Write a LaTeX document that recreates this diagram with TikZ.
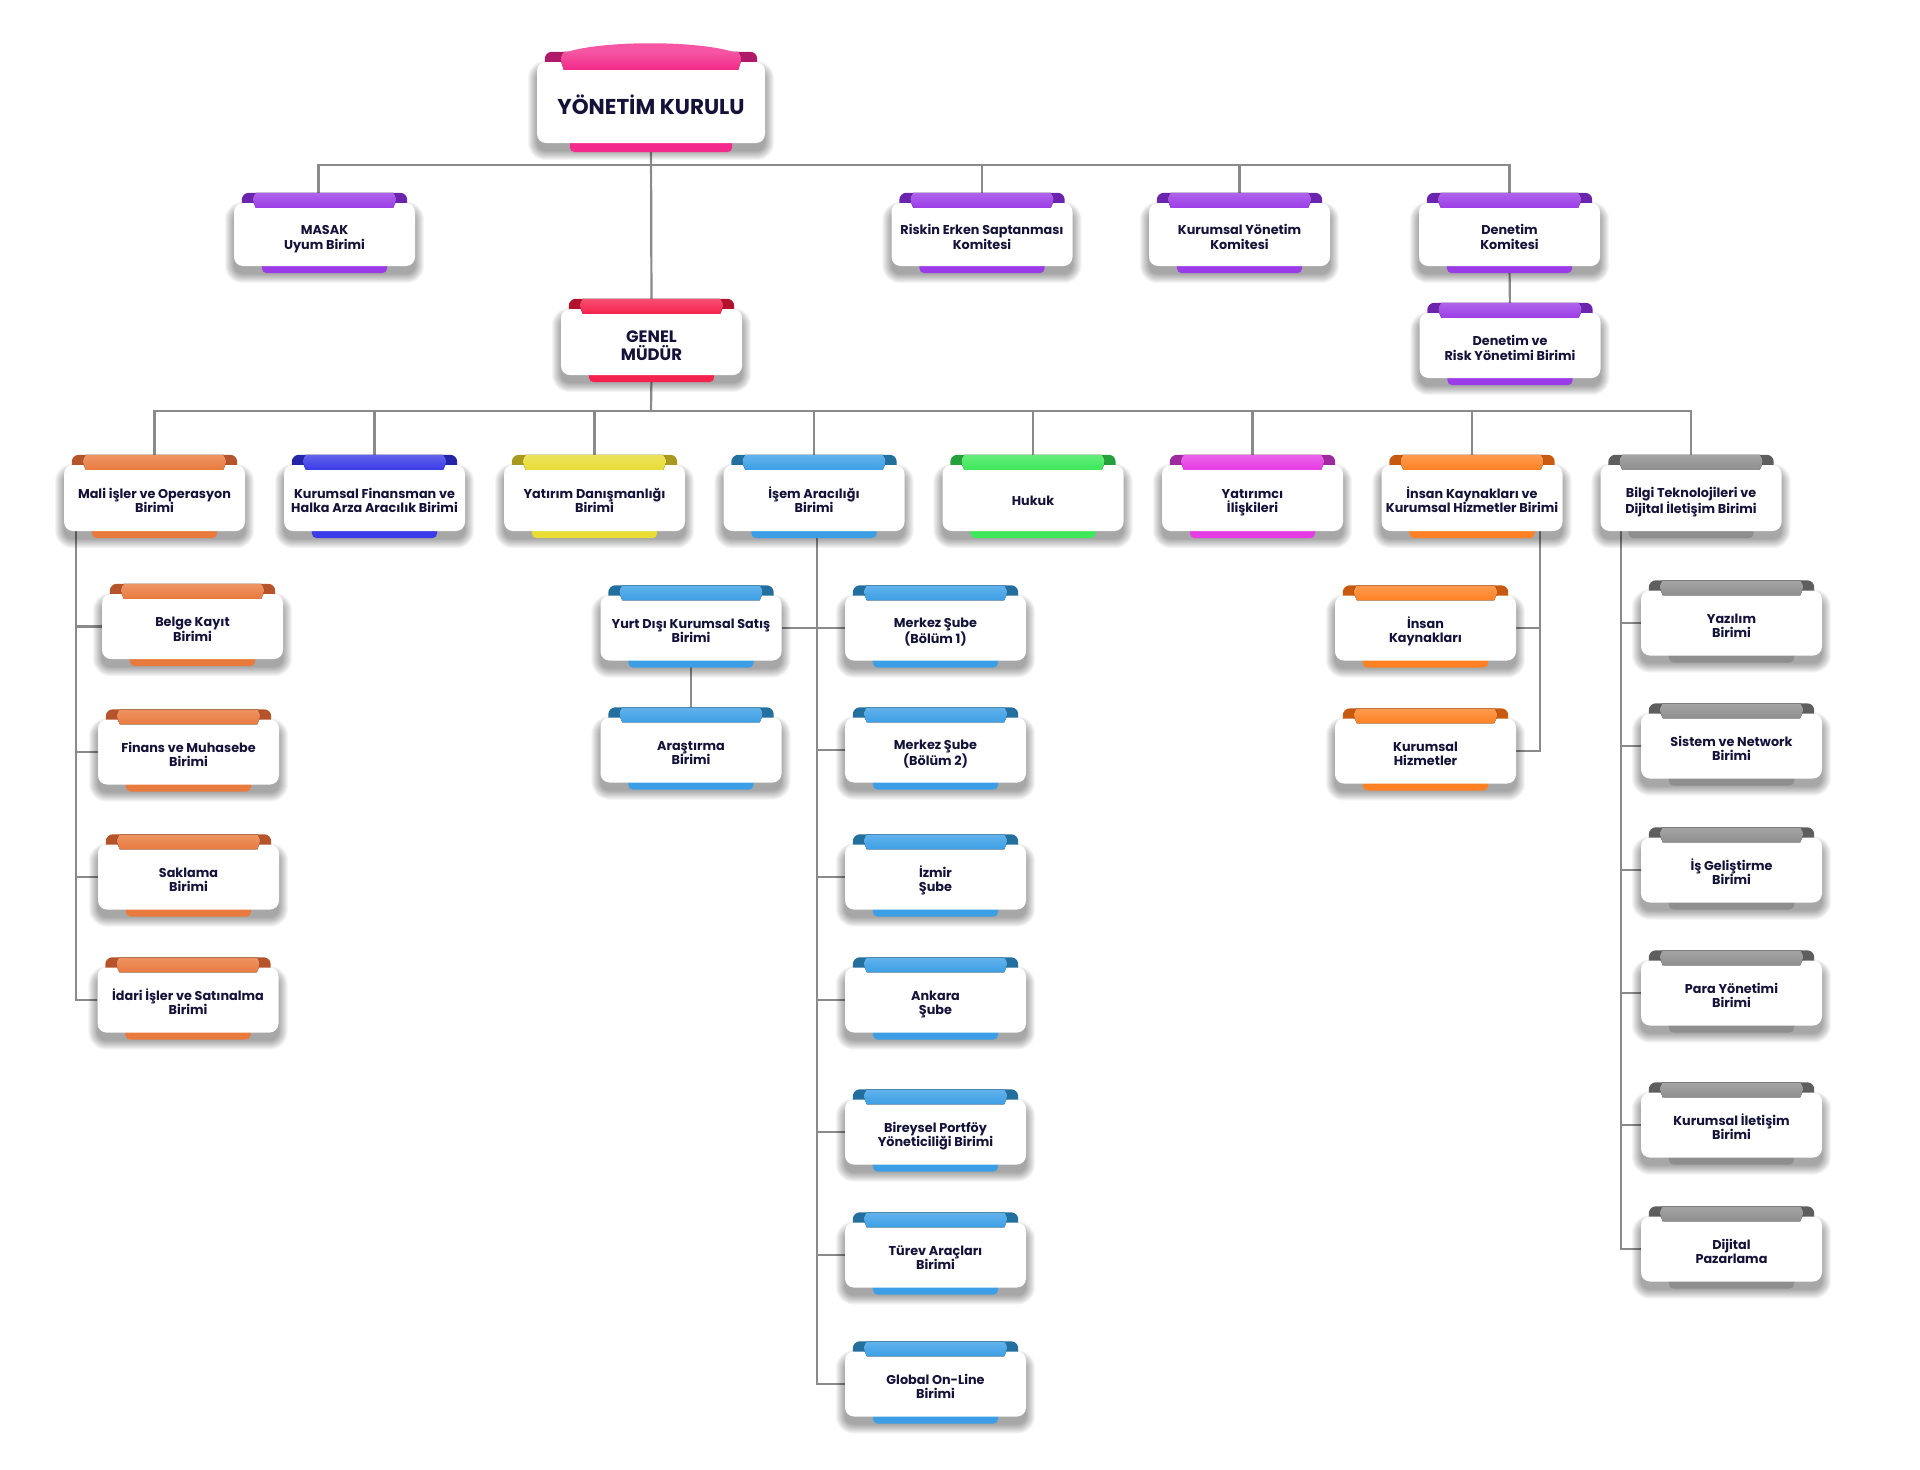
\documentclass[tikz,border=0pt]{standalone}
\usepackage{fontspec}
\setmainfont{Poppins}
\usetikzlibrary{calc}
\pgfdeclarelayer{bg}
\pgfdeclarelayer{lines}
\pgfdeclarelayer{back}
\pgfsetlayers{bg,lines,back,main}
\definecolor{txt}{HTML}{15123A}
\definecolor{conncol}{HTML}{8A8A8A}
\definecolor{pk}{HTML}{F22A8B}\definecolor{pkd}{HTML}{B0186A}
\definecolor{pu}{HTML}{9B3DE6}\definecolor{pud}{HTML}{6B24AE}
\definecolor{rd}{HTML}{F5224E}\definecolor{rdd}{HTML}{B3122F}
\definecolor{orr}{HTML}{E97A3E}\definecolor{orrd}{HTML}{B5532A}
\definecolor{bl}{HTML}{3B3BE8}\definecolor{bld}{HTML}{2424A8}
\definecolor{ye}{HTML}{E8DC35}\definecolor{yed}{HTML}{A89A1E}
\definecolor{sk}{HTML}{3C9FE6}\definecolor{skd}{HTML}{23709E}
\definecolor{gr}{HTML}{3EE85A}\definecolor{grd}{HTML}{26A03A}
\definecolor{mg}{HTML}{E63CE3}\definecolor{mgd}{HTML}{9E2A9E}
\definecolor{oa}{HTML}{FF8124}\definecolor{oad}{HTML}{C75A10}
\definecolor{gy}{HTML}{8E8E8E}\definecolor{gyd}{HTML}{5E5E5E}
\def\tsh{20pt}\def\bsd{5pt}
\newcommand\tstr{\rule{0pt}{\tsh}}
\newcommand\bstr{\rule[-\bsd]{0pt}{0pt}}
\tikzset{
  obx/.style={rectangle, rounded corners=9pt, fill=white, inner sep=0pt, align=center,
    text=txt, font=\bfseries\fontsize{12.8}{14.6}\selectfont},
  conn/.style={draw=conncol, line width=2.2pt},
}
\def\co{8}\def\fo{22}\def\bo{28}\def\fb{5}\def\bb{7}
% [options], name, x, y, w, h, colour, text
\newcommand\obox[8][]{%
  \node[obx, minimum width=#5, minimum height=#6, #1] (#2) at (#3,#4) {\tstr#8\bstr};
  \begin{pgfonlayer}{back}
    \foreach \k in {0,...,9}{%
      \pgfmathsetmacro\rr{9+\k}%
      \fill[black, opacity=0.04, rounded corners=\rr pt]
        ([xshift=-\k pt, yshift=-8pt-\k pt]#2.south west) rectangle
        ([xshift=\k pt, yshift=-8pt+\k pt]#2.north east);
    }
    \fill[#7d, rounded corners=7pt] ([xshift=\co pt, yshift=10pt]#2.north west) rectangle
      ([xshift=-\co pt, yshift=-12pt]#2.north east);
    \fill[#7, rounded corners=5pt] ([xshift=\bo pt, yshift=10pt]#2.south west) rectangle
      ([xshift=-\bo pt, yshift=-\bb pt]#2.south east);
  \end{pgfonlayer}
  \fill[top color=#7!80!white, bottom color=#7]
    ([xshift=\fo pt, yshift=10pt]#2.north west)
    .. controls ([xshift=\fo pt-4pt, yshift=4pt]#2.north west) .. ([xshift=\fo pt, yshift=-\fb pt]#2.north west)
    -- ([xshift=-\fo pt, yshift=-\fb pt]#2.north east)
    .. controls ([xshift=-\fo pt+4pt, yshift=4pt]#2.north east) .. ([xshift=-\fo pt, yshift=10pt]#2.north east)
    -- cycle;
}
\begin{document}
\begin{tikzpicture}[x=1pt, y=-1pt]
\useasboundingbox (0,0) rectangle (1920,1470);
\begin{pgfonlayer}{bg}
  \fill[white] (0,0) rectangle (1920,1470);
\end{pgfonlayer}

% top
\begin{scope}
\def\fo{27}\def\bo{33}\def\fb{8}\def\bb{9}\def\tsh{30pt}\def\bsd{6pt}
\obox[font=\bfseries\fontsize{21.5}{25}\selectfont]{yk}{651}{102.5}{228}{81}{pk}{YÖNETİM KURULU}
\fill[pk!80!white] (564,53) .. controls (600,40) and (700,40) .. (737,53) -- cycle;
\end{scope}

% level 1
\obox{masak}{324.5}{234.5}{181}{63}{pu}{MASAK\\Uyum Birimi}
\obox{risk}{982}{234.5}{181}{63}{pu}{Riskin Erken Saptanması\\Komitesi}
\obox{kyk}{1239.5}{234.5}{181}{63}{pu}{Kurumsal Yönetim\\Komitesi}
\obox{denk}{1509.5}{234.5}{181}{63}{pu}{Denetim\\Komitesi}
\obox{drisk}{1510}{345.5}{181}{65}{pu}{Denetim ve\\Risk Yönetimi Birimi}
\begin{scope}
\def\tsh{24pt}
\obox[font=\bfseries\fontsize{16.5}{18}\selectfont]{gm}{651.5}{342}{181}{66}{rd}{GENEL\\MÜDÜR}
\end{scope}

% level 2
\obox{mali}{154.5}{498}{181}{66}{orr}{Mali işler ve Operasyon\\Birimi}
\obox{kfin}{374.5}{498}{181}{66}{bl}{Kurumsal Finansman ve\\Halka Arza Aracılık Birimi}
\obox{yat}{594.5}{498}{181}{66}{ye}{Yatırım Danışmanlığı\\Birimi}
\obox{isem}{814}{498}{181}{66}{sk}{İşem Aracılığı\\Birimi}
\obox{huk}{1033}{498}{181}{66}{gr}{Hukuk}
\obox{yil}{1252.5}{498}{181}{66}{mg}{Yatırımcı\\İlişkileri}
\obox{ik}{1472}{498}{181}{66}{oa}{İnsan Kaynakları ve\\Kurumsal Hizmetler Birimi}
\obox{bilgi}{1691}{498}{181}{66}{gy}{Bilgi Teknolojileri ve\\Dijital İletişim Birimi}

% Mali children
\obox{belge}{192.5}{626.5}{181}{65}{orr}{Belge Kayıt\\Birimi}
\obox{finans}{188.5}{752}{181}{65}{orr}{Finans ve Muhasebe\\Birimi}
\obox{sakl}{188.5}{877}{181}{65}{orr}{Saklama\\Birimi}
\obox{idari}{188}{1000}{181}{65}{orr}{İdari İşler ve Satınalma\\Birimi}

% Isem children
\obox{yurt}{691}{628}{181}{65}{sk}{Yurt Dışı Kurumsal Satış\\Birimi}
\obox{arast}{691}{750}{181}{65}{sk}{Araştırma\\Birimi}
\obox{mb1}{935.5}{628}{181}{65}{sk}{Merkez Şube\\(Bölüm 1)}
\obox{mb2}{935.5}{750}{181}{65}{sk}{Merkez Şube\\(Bölüm 2)}
\obox{izm}{935.5}{877}{181}{65}{sk}{İzmir\\Şube}
\obox{ank}{935.5}{1000}{181}{65}{sk}{Ankara\\Şube}
\obox{bir}{935.5}{1132}{181}{65}{sk}{Bireysel Portföy\\Yöneticiliği Birimi}
\obox{tur}{935.5}{1255}{181}{65}{sk}{Türev Araçları\\Birimi}
\obox{glob}{935.5}{1384}{181}{65}{sk}{Global On-Line\\Birimi}

% IK children
\obox{ikk}{1425.5}{628}{181}{65}{oa}{İnsan\\Kaynakları}
\obox{kh}{1425.5}{751}{181}{65}{oa}{Kurumsal\\Hizmetler}

% Bilgi children
\obox{yaz}{1731.5}{623}{181}{65}{gy}{Yazılım\\Birimi}
\obox{sis}{1731.5}{746}{181}{65}{gy}{Sistem ve Network\\Birimi}
\obox{isg}{1731.5}{870}{181}{65}{gy}{İş Geliştirme\\Birimi}
\obox{para}{1731.5}{993}{181}{65}{gy}{Para Yönetimi\\Birimi}
\obox{kil}{1731.5}{1125}{181}{65}{gy}{Kurumsal İletişim\\Birimi}
\obox{dij}{1731.5}{1249}{181}{65}{gy}{Dijital\\Pazarlama}

% connectors
\begin{pgfonlayer}{lines}
  \coordinate (j1) at (651,165);
  \coordinate (j2) at (651,411);
  \draw[conn] (yk.south) -- (gm.north);
  \draw[conn] ([xshift=-6pt]masak.north) |- (j1) -| (denk.north);
  \draw[conn] (j1) -| (risk.north);
  \draw[conn] (j1) -| (kyk.north);
  \draw[conn] (denk.south) -- (drisk.north);
  \draw[conn] (gm.south) -- (j2);
  \draw[conn] (mali.north) |- (j2) -| (bilgi.north);
  \foreach \n in {kfin,yat,isem,huk,yil,ik}{\draw[conn] (j2) -| (\n.north);}
  \foreach \n in {belge,finans,sakl,idari}{\draw[conn] ([xshift=12pt]mali.south west) |- (\n.west);}
  \foreach \n in {mb2,izm,ank,bir,tur,glob}{\draw[conn] ([xshift=3pt]isem.south) |- (\n.west);}
  \draw[conn] (yurt.east) -- (mb1.west);
  \draw[conn] ([xshift=3pt]isem.south) -- ([xshift=3pt]isem.south |- mb1.west);
  \draw[conn] (yurt.south) -- (arast.north);
  \foreach \n in {ikk,kh}{\draw[conn] ([xshift=-23pt]ik.south east) |- (\n.east);}
  \foreach \n in {yaz,sis,isg,para,kil,dij}{\draw[conn] ([xshift=21pt]bilgi.south west) |- (\n.west);}
\end{pgfonlayer}
\end{tikzpicture}
\end{document}
